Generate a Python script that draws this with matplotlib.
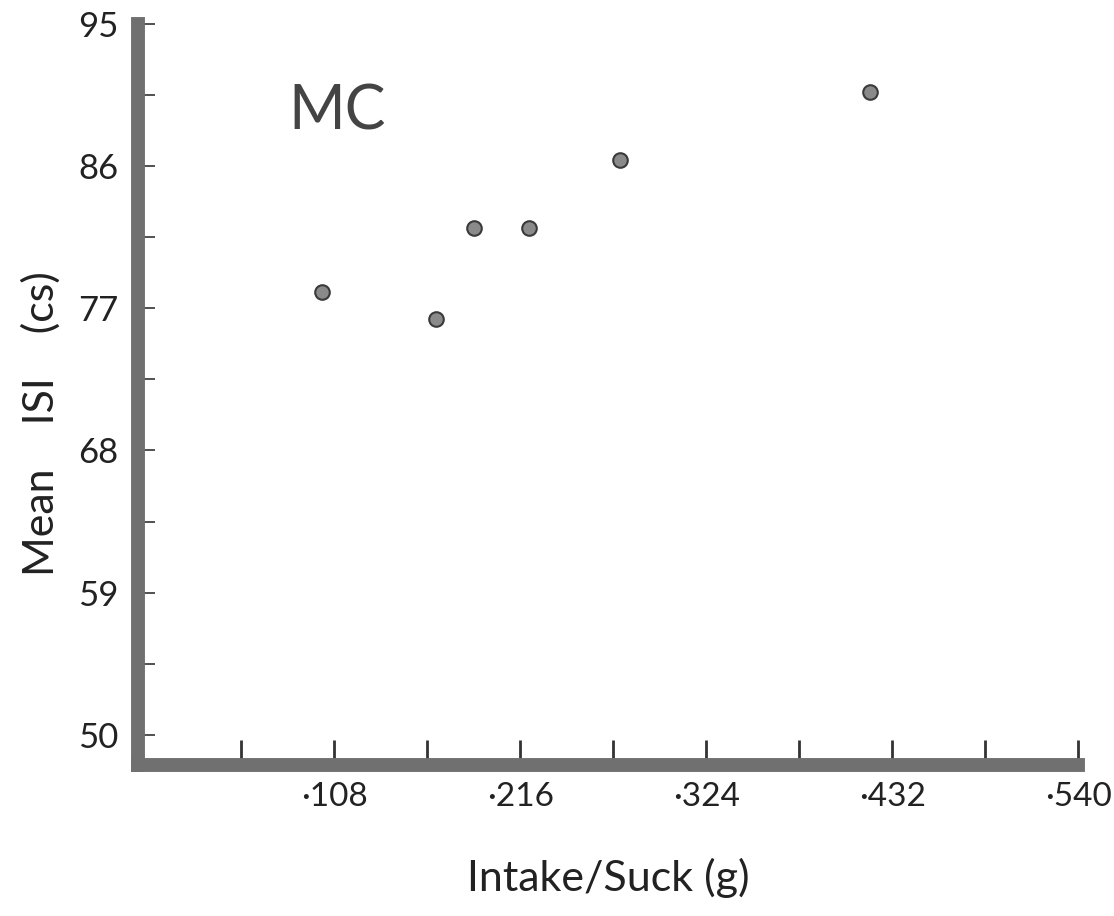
import numpy as np
import matplotlib.pyplot as plt
from matplotlib.ticker import FixedLocator, FixedFormatter

# data
intake = [0.101, 0.167, 0.189, 0.221, 0.274, 0.419]
isi = [78.0, 76.3, 82.1, 82.1, 86.4, 90.7]

x_major = [0.108, 0.216, 0.324, 0.432, 0.540]
x_labels = ["\u00b7108", "\u00b7216", "\u00b7324", "\u00b7432", "\u00b7540"]
x_minor = [0.054, 0.162, 0.270, 0.378, 0.486]
y_major = [50, 59, 68, 77, 86, 95]
y_minor = [54.5, 63.5, 72.5, 81.5, 90.5]

plt.rcParams['font.family'] = ['Lato', 'DejaVu Sans']

fig = plt.figure(figsize=(11.14, 9.16), dpi=100)
ax = fig.add_axes([0.124, 0.165, 0.844, 0.809])

ax.scatter(intake, isi, s=110, c='#8a8a8a', edgecolors='#3a3a3a', linewidths=1.5, zorder=3)

ax.set_xlim(-0.006, 0.54)
ax.set_ylim(48.1, 95)

for side in ['top', 'right']:
    ax.spines[side].set_visible(False)
for side in ['left', 'bottom']:
    ax.spines[side].set_linewidth(10)
    ax.spines[side].set_color('#707070')
    ax.spines[side].set_capstyle('projecting')

ax.xaxis.set_major_locator(FixedLocator(x_major))
ax.xaxis.set_major_formatter(FixedFormatter(x_labels))
ax.xaxis.set_minor_locator(FixedLocator(x_minor))
ax.yaxis.set_major_locator(FixedLocator(y_major))
ax.yaxis.set_minor_locator(FixedLocator(y_minor))

ax.tick_params(axis='x', which='both', direction='in', length=18, width=2, color='#333333',
               labelsize=24, pad=12, labelcolor='#222222')
ax.tick_params(axis='y', which='both', direction='in', length=12, width=1.2, color='#333333',
               labelsize=25, pad=14, labelcolor='#222222')

ax.set_xlabel("Intake/Suck (g)", fontsize=31, color='#222222')
ax.xaxis.set_label_coords(0.5, -0.125)
ax.set_ylabel("Mean    ISI    (cs)", fontsize=31, color='#222222')
ax.yaxis.set_label_coords(-0.082, 0.46)

ax.text(0.081, 88.3, "MC", fontsize=44, color='#444444')

fig.savefig("out.png", dpi=100)
